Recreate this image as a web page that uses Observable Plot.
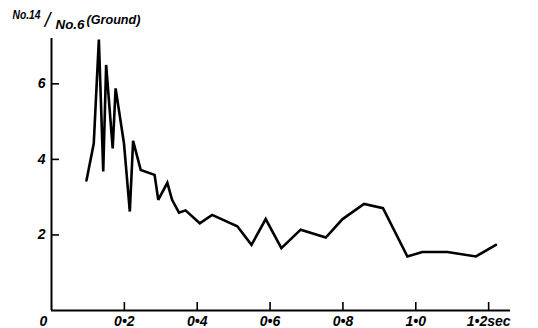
<!DOCTYPE html>
<html>
<head>
<meta charset="utf-8">
<script src="https://cdn.jsdelivr.net/npm/d3@7"></script>
<script src="https://cdn.jsdelivr.net/npm/@observablehq/plot@0.6"></script>
<style>
  html, body { margin: 0; padding: 0; background: #fff; }
  svg { overflow: visible; }
</style>
</head>
<body>
<div id="chart"></div>
<script>
// Period (sec)
const periods = [0.096, 0.116, 0.130, 0.142, 0.150, 0.168, 0.176, 0.199, 0.215, 0.224, 0.245, 0.283, 0.293, 0.318, 0.331, 0.350, 0.368, 0.407, 0.441, 0.510, 0.549, 0.588, 0.631, 0.684, 0.753, 0.799, 0.858, 0.910, 0.977, 1.018, 1.087, 1.165, 1.220];
// Spectral ratio No.14 / No.6 (Ground)
const ratios = [3.44, 4.42, 7.17, 3.68, 6.50, 4.29, 5.88, 4.42, 2.62, 4.49, 3.72, 3.59, 2.93, 3.38, 2.93, 2.59, 2.65, 2.31, 2.53, 2.23, 1.74, 2.42, 1.65, 2.14, 1.93, 2.42, 2.82, 2.71, 1.43, 1.55, 1.55, 1.43, 1.74];

const xTicks = [0.2, 0.4, 0.6, 0.8, 1.0, 1.2];
const xTickLabels = ["0•2", "0•4", "0•6", "0•8", "1•0", "1•2sec"];
const yTicks = [2, 4, 6];
const yTickLabels = ["2", "4", "6"];
const originLabel = ["0"];
const titleParts = ["No.14", "/", "No.6", "(Ground)"];

const data = periods.map((p, i) => ({period: p, ratio: ratios[i]}));
const font = "'Liberation Sans', Arial, sans-serif";
const lbl = {fontSize: 14, fontStyle: "italic", fontWeight: "bold"};

const W = 538, H = 328, ML = 51, MR = 28, MT = 38, MB = 18, TICK = 8;

const chart = Plot.plot({
  width: W,
  height: H,
  marginLeft: ML,
  marginRight: MR,
  marginTop: MT,
  marginBottom: MB,
  style: {fontFamily: font, background: "#fff", color: "#000"},
  x: {domain: [0, 1.26], label: null},
  y: {domain: [0, 7.2], label: null},
  axis: null,
  marks: [
    Plot.ruleX([0], {stroke: "#000", strokeWidth: 2}),
    Plot.ruleY([0], {stroke: "#000", strokeWidth: 2}),
    // inward tick marks
    Plot.tickX(xTicks, {x: (d) => d, stroke: "#000", strokeWidth: 1.6, insetTop: H - MT - MB - TICK}),
    Plot.tickY(yTicks, {y: (d) => d, stroke: "#000", strokeWidth: 1.6, insetRight: W - ML - MR - TICK}),
    Plot.axisX({ticks: xTicks, tickSize: 0, tickPadding: 6, tickFormat: (d) => xTickLabels[xTicks.indexOf(d)], label: null, ...lbl}),
    Plot.axisY({ticks: yTicks, tickSize: 0, tickPadding: 6, tickFormat: (d) => yTickLabels[yTicks.indexOf(d)], label: null, ...lbl}),
    Plot.text(originLabel, {x: 0, y: 0, text: (d) => d, dx: -8, dy: 11, lineAnchor: "middle", ...lbl}),
    Plot.line(data, {x: "period", y: "ratio", stroke: "#000", strokeWidth: 2.6, strokeLinejoin: "miter", strokeMiterlimit: 3}),
    Plot.text([titleParts[0]], {frameAnchor: "top-left", text: (d) => d, dx: -39, dy: -20, lineAnchor: "bottom", textAnchor: "start", fontSize: 13, fontStyle: "italic", fontWeight: "bold"}),
    Plot.text([titleParts[1]], {frameAnchor: "top-left", text: (d) => d, dx: -4, dy: -18, lineAnchor: "middle", textAnchor: "middle", fontSize: 20, fontStyle: "italic"}),
    Plot.text([titleParts[2]], {frameAnchor: "top-left", text: (d) => d, dx: 4, dy: -10, lineAnchor: "bottom", textAnchor: "start", fontSize: 12.5, fontStyle: "italic", fontWeight: "bold"}),
    Plot.text([titleParts[3]], {frameAnchor: "top-left", text: (d) => d, dx: 35, dy: -19, lineAnchor: "middle", textAnchor: "start", fontSize: 13, fontStyle: "italic", fontWeight: "bold"})
  ]
});
// condense title glyphs to the reference's narrow lettering
const titleLengths = {"No.14": 28, "No.6": 29, "(Ground)": 54};
d3.select(chart).selectAll("text").each(function () {
  const t = this.textContent;
  if (titleLengths[t]) {
    this.setAttribute("textLength", titleLengths[t]);
    this.setAttribute("lengthAdjust", "spacingAndGlyphs");
  }
});
document.getElementById("chart").appendChild(chart);
</script>
</body>
</html>
